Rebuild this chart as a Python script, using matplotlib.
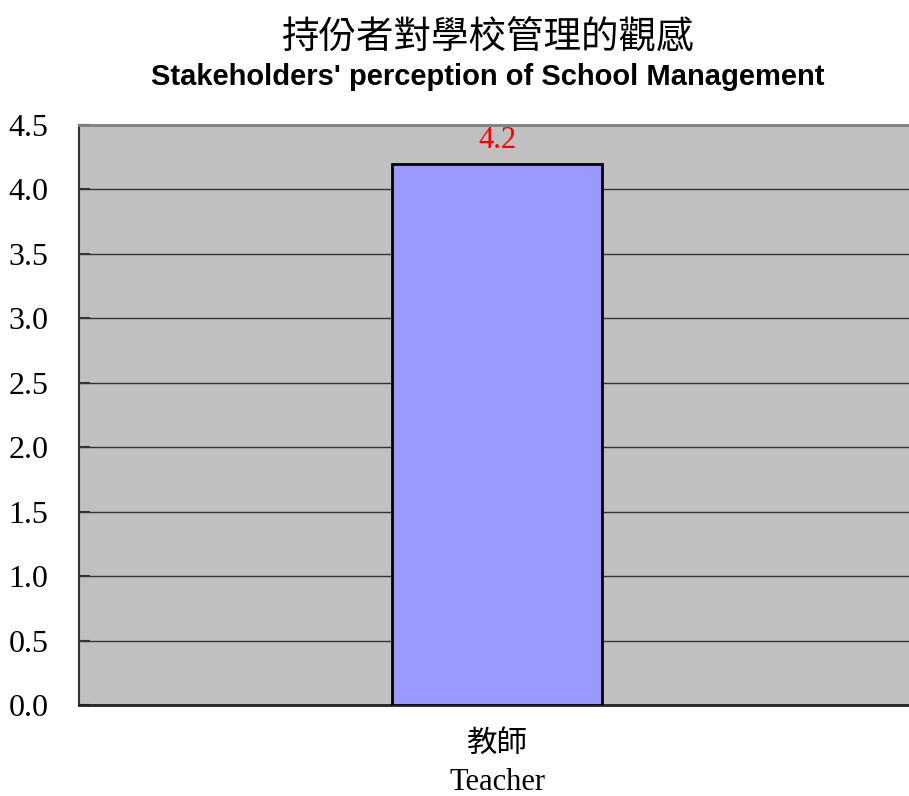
import matplotlib
matplotlib.use("Agg")
import matplotlib.pyplot as plt

categories = ["教師\nTeacher"]
values = [4.2]
value_labels = ["4.2"]
yticks = [0.0, 0.5, 1.0, 1.5, 2.0, 2.5, 3.0, 3.5, 4.0, 4.5]
title_zh = "持份者對學校管理的觀感"
title_en = "Stakeholders' perception of School Management"

fig = plt.figure(figsize=(9.09, 7.96), dpi=100)
ax = fig.add_axes([79/909, 91/796, 830/909, 580/796])
ax.set_facecolor("#C0C0C0")

x = list(range(len(categories)))
bars = ax.bar(x, values, width=0.253, color="#9999FF", edgecolor="black", linewidth=2, zorder=3)
ax.set_xlim(-0.504, 0.496)
ax.set_ylim(0, 4.5)
ax.set_yticks(yticks)
ax.set_yticklabels([f"{t:.1f}" for t in yticks], family="Liberation Serif", fontsize=23)
ax.set_xticks(x)
ax.set_xticklabels([])
ax.tick_params(axis="y", direction="in", length=8, width=1.5, pad=22, color="#333333")
ax.tick_params(axis="x", length=0)
ax.grid(axis="y", color="#333333", linewidth=1, zorder=1)
ax.set_axisbelow(True)

ax.spines["right"].set_visible(False)
ax.spines["top"].set_color("#808080")
ax.spines["top"].set_linewidth(2)
ax.spines["left"].set_color("#333333")
ax.spines["left"].set_linewidth(1.5)
ax.spines["bottom"].set_color("#222222")
ax.spines["bottom"].set_linewidth(2)

for xi, v, lab in zip(x, values, value_labels):
    ax.text(xi, v + 0.065, lab, ha="center", va="bottom", color="red",
            family="Liberation Serif", fontsize=22, zorder=4)

for xi, cat in zip(x, categories):
    zh, en = cat.split("\n")
    ax.text(xi, -0.3, zh, ha="center", va="center", transform=ax.transData,
            family=["Noto Sans CJK TC", "DejaVu Sans"], fontsize=22)
    ax.text(xi, -0.6, en, ha="center", va="center", transform=ax.transData,
            family="Liberation Serif", fontsize=22)

fig.text(488/909, 1 - 37/796, title_zh, ha="center", va="center",
         family=["Noto Sans CJK TC", "DejaVu Sans"], fontsize=27)
fig.text(488/909, 1 - 77/796, title_en, ha="center", va="center",
         family="Liberation Sans", fontweight="bold", fontsize=21)

fig.savefig("out.png", dpi=100)
